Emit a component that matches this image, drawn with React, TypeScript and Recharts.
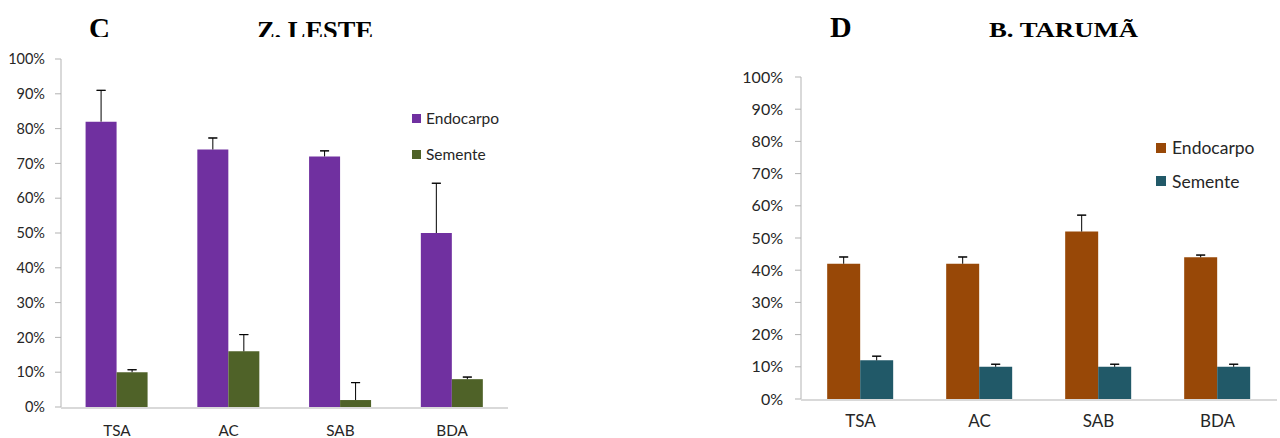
import React from "react";
import { BarChart, Bar, XAxis, YAxis, ErrorBar, Legend } from "recharts";

const categories = ["TSA", "AC", "SAB", "BDA"];
const yTicks = [0, 10, 20, 30, 40, 50, 60, 70, 80, 90, 100];
const boundaryTicks = [0, 1, 2, 3, 4];

// C - Z. Leste
const endocarpoLeste = [82, 74, 72, 50];
const endocarpoLesteErr = [9, 3.3, 1.6, 14.3];
const sementeLeste = [10, 16, 2, 8];
const sementeLesteErr = [0.7, 4.8, 5, 0.6];

// D - B. Tarumã
const endocarpoTaruma = [42, 42, 52, 44];
const endocarpoTarumaErr = [2.1, 2.1, 5.1, 0.7];
const sementeTaruma = [12, 10, 10, 10];
const sementeTarumaErr = [1.3, 0.8, 0.8, 0.8];

const AXIS = "#b3b3b3";
const TEXT = "#262626";
const FONT = "Lato, 'Open Sans', sans-serif";
const SERIF = "'Liberation Serif', 'Times New Roman', serif";

// only the upper half of each error bar: a stem with no caps, plus a cap at the top
const buildRows = (endo: number[], endoErr: number[], sem: number[], semErr: number[]) =>
  categories.map((cat, i) => ({
    cat,
    endocarpo: endo[i],
    semente: sem[i],
    endoStem: [0, endoErr[i]],
    endoCap: [-endoErr[i], endoErr[i]],
    semStem: [0, semErr[i]],
    semCap: [-semErr[i], semErr[i]],
  }));

const lesteRows = buildRows(endocarpoLeste, endocarpoLesteErr, sementeLeste, sementeLesteErr);
const tarumaRows = buildRows(endocarpoTaruma, endocarpoTarumaErr, sementeTaruma, sementeTarumaErr);

interface PanelCfg {
  width: number;
  margin: { top: number; right: number; bottom: number; left: number };
  yWidth: number;
  yTickMargin: number;
  yFont: number;
  xTickMargin: number;
  xFont: number;
  legendLeft: number;
  legendTop: number;
  legendRow: number;
  legendFont: number;
  square: number;
  squareGap: number;
}

const lesteCfg: PanelCfg = {
  width: 520,
  margin: { top: 59, right: 12, bottom: 29, left: 0 },
  yWidth: 61,
  yTickMargin: 10,
  yFont: 14.5,
  xTickMargin: 18,
  xFont: 15.3,
  legendLeft: 412,
  legendTop: 100,
  legendRow: 36,
  legendFont: 15.5,
  square: 9,
  squareGap: 5,
};

const tarumaCfg: PanelCfg = {
  width: 590,
  margin: { top: 77, right: 3, bottom: 37, left: 0 },
  yWidth: 111,
  yTickMargin: 12,
  yFont: 16,
  xTickMargin: 16,
  xFont: 17,
  legendLeft: 466,
  legendTop: 131,
  legendRow: 33.5,
  legendFont: 17.5,
  square: 10,
  squareGap: 6,
};

function Panel({ rows, colors, cfg }: { rows: any[]; colors: string[]; cfg: PanelCfg }) {
  const legendContent = (props: any) => (
    <div style={{ fontFamily: FONT, fontSize: cfg.legendFont, color: TEXT }}>
      {(props.payload || []).map((p: any, i: number) => (
        <div key={i} style={{ display: "flex", alignItems: "center", height: cfg.legendRow }}>
          <span
            style={{
              width: cfg.square,
              height: cfg.square,
              background: p.color,
              marginRight: cfg.squareGap,
              display: "inline-block",
            }}
          />
          <span>{p.value}</span>
        </div>
      ))}
    </div>
  );

  return (
    <BarChart
      width={cfg.width}
      height={438}
      data={rows}
      margin={cfg.margin}
      barCategoryGap="22%"
      barGap={0}
    >
      {/* tick marks between categories, like the original */}
      <XAxis
        xAxisId="grid"
        type="number"
        domain={[0, 4]}
        ticks={boundaryTicks}
        allowDataOverflow
        tick={false}
        tickSize={5}
        height={1}
        axisLine={{ stroke: AXIS }}
        tickLine={{ stroke: AXIS }}
      />
      <XAxis
        xAxisId="cat"
        dataKey="cat"
        height={1}
        axisLine={false}
        tickLine={false}
        tickSize={0}
        tickMargin={cfg.xTickMargin}
        interval={0}
        tick={{ fill: TEXT, fontSize: cfg.xFont, fontFamily: FONT }}
      />
      <YAxis
        width={cfg.yWidth}
        domain={[0, 100]}
        ticks={yTicks}
        interval={0}
        tickFormatter={(v: number) => `${v}%`}
        tickSize={6}
        tickMargin={cfg.yTickMargin}
        axisLine={{ stroke: AXIS }}
        tickLine={{ stroke: AXIS }}
        tick={{ fill: TEXT, fontSize: cfg.yFont, fontFamily: FONT }}
      />
      <Legend
        layout="horizontal"
        verticalAlign="middle"
        align="center"
        wrapperStyle={{ left: cfg.legendLeft, top: cfg.legendTop, width: "auto", height: "auto" }}
        content={legendContent}
      />
      <Bar xAxisId="cat" dataKey="endocarpo" name="Endocarpo" fill={colors[0]} isAnimationActive={false}>
        <ErrorBar dataKey="endoStem" width={0} stroke="#000" strokeWidth={1} direction="y" />
        <ErrorBar dataKey="endoCap" width={4.5} stroke="#000" strokeWidth={1} direction="y" />
      </Bar>
      <Bar xAxisId="cat" dataKey="semente" name="Semente" fill={colors[1]} isAnimationActive={false}>
        <ErrorBar dataKey="semStem" width={0} stroke="#000" strokeWidth={1} direction="y" />
        <ErrorBar dataKey="semCap" width={4.5} stroke="#000" strokeWidth={1} direction="y" />
      </Bar>
    </BarChart>
  );
}

export default function App() {
  return (
    <div style={{ position: "absolute", left: 0, top: 0, width: 1280, height: 438, background: "#fff", overflow: "hidden" }}>
      <div style={{ position: "absolute", left: 0, top: 0 }}>
        <Panel rows={lesteRows} colors={["#7030a0", "#4f6228"]} cfg={lesteCfg} />
      </div>
      <div style={{ position: "absolute", left: 690, top: 0 }}>
        <Panel rows={tarumaRows} colors={["#984807", "#215968"]} cfg={tarumaCfg} />
      </div>
      <svg width={1280} height={60} style={{ position: "absolute", left: 0, top: 0 }}>
        <defs>
          <clipPath id="clipLeste">
            <rect x={0} y={0} width={640} height={37} />
          </clipPath>
        </defs>
        <g clipPath="url(#clipLeste)" fontFamily={SERIF} fontWeight="bold" fill="#000">
          <text x={89} y={38} fontSize={29}>C</text>
          <text x={257} y={39} fontSize={26} textLength={116} lengthAdjust="spacingAndGlyphs">
            Z. LESTE
          </text>
        </g>
        <g fontFamily={SERIF} fontWeight="bold" fill="#000">
          <text x={830} y={37} fontSize={30}>D</text>
          <text x={989} y={37} fontSize={21} textLength={149} lengthAdjust="spacingAndGlyphs">
            B. TARUMÃ
          </text>
        </g>
      </svg>
    </div>
  );
}
